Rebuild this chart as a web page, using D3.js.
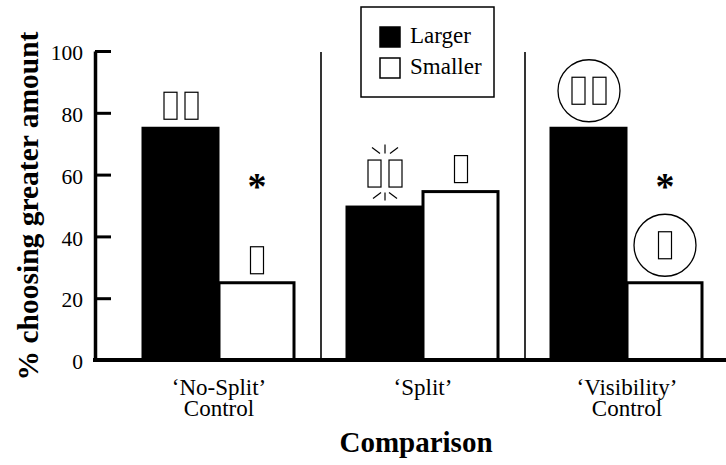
<!DOCTYPE html>
<html>
<head>
<meta charset="utf-8">
<script src="https://cdn.jsdelivr.net/npm/d3@7"></script>
<style>
  body { margin: 0; background: #fff; }
</style>
</head>
<body>
<div id="chart"></div>
<script>
// ==================================================
// DATA
// ==================================================

// Comparison groups (label lines)
var groups      = ["No-Split", "Split", "Visibility"];
var groupLabels = [["\u2018No-Split\u2019", "Control"], ["\u2018Split\u2019"], ["\u2018Visibility\u2019", "Control"]];

// Series
var series  = ["Larger", "Smaller"];
var larger  = [75, 49.5, 75];
var smaller = [25, 54.5, 25];

// Significance star per group
var significant = [true, false, true];

// Y ticks
var yTicks = [0, 20, 40, 60, 80, 100];

// ==================================================
// SETUP
// ==================================================

var width  = 726;
var height = 465;
var serif  = "'Liberation Serif', 'Times New Roman', serif";

var svg = d3.select("#chart")
  .append("svg")
    .attr("width", width)
    .attr("height", height);

// Scales
var y = d3.scaleLinear()
  .domain([0, 100])
  .range([360, 51]);

var x = d3.scaleBand()
  .domain(groups)
  .range([117, 729]);

var barW = 76;
var xSub = d3.scaleBand()
  .domain(series)
  .range([0, barW * 2]);

function barX(g, s) {
  return x(g) + x.bandwidth() / 2 - barW + xSub(s);
}

// Build bar records
var bars = [];
groups.forEach(function(g, i) {
  bars.push({ group: g, series: "Larger",  value: larger[i],  gi: i });
  bars.push({ group: g, series: "Smaller", value: smaller[i], gi: i });
});

// ==================================================
// SEPARATORS
// ==================================================

svg.selectAll(".sep")
  .data(groups.slice(1))
  .enter()
  .append("line")
    .attr("x1", function(d) { return x(d); })
    .attr("x2", function(d) { return x(d); })
    .attr("y1", y(100) + 1)
    .attr("y2", y(0))
    .attr("stroke", "#000")
    .attr("stroke-width", 1.6);

// ==================================================
// BARS
// ==================================================

svg.selectAll(".bar")
  .data(bars)
  .enter()
  .append("rect")
    .attr("x", function(d) { return barX(d.group, d.series); })
    .attr("y", function(d) { return y(d.value); })
    .attr("width", barW - 1)
    .attr("height", function(d) { return y(0) - y(d.value); })
    .attr("fill", function(d) { return d.series == "Larger" ? "#000" : "#fff"; })
    .attr("stroke", "#000")
    .attr("stroke-width", 3);

// ==================================================
// ANNOTATION GLYPHS (boxes above bars)
// ==================================================

var boxW = 13, boxH = 27;

bars.forEach(function(d) {
  var cx   = barX(d.group, d.series) + barW / 2;
  var top  = y(d.value);
  var n    = d.series == "Larger" ? 2 : 1;
  var gap  = 9;
  if (d.group == "Split" && d.series == "Larger") gap = 20;
  if (d.group == "Visibility") gap = 24;
  var cy = top - gap - boxH / 2;

  var offs = n == 2 ? [-17, 4] : [-boxW / 2];
  offs.forEach(function(o) {
    svg.append("rect")
      .attr("x", cx + o)
      .attr("y", cy - boxH / 2)
      .attr("width", boxW)
      .attr("height", boxH)
      .attr("fill", "none")
      .attr("stroke", "#000")
      .attr("stroke-width", 1.2);
  });

  // Circle around glyphs
  if (d.group == "Visibility") {
    svg.append("circle")
      .attr("cx", cx)
      .attr("cy", cy)
      .attr("r", 31)
      .attr("fill", "none")
      .attr("stroke", "#000")
      .attr("stroke-width", 1.3);
  }

  // Sparkle lines
  if (d.group == "Split" && d.series == "Larger") {
    var rays = [[-13, -26, -5, -20], [0, -29, 0, -20], [13, -26, 5, -20],
                [-12, 25, -4, 19], [0, 27, 0, 19], [12, 25, 4, 19]];
    rays.forEach(function(r) {
      svg.append("line")
        .attr("x1", cx + r[0]).attr("y1", cy + r[1])
        .attr("x2", cx + r[2]).attr("y2", cy + r[3])
        .attr("stroke", "#000")
        .attr("stroke-width", 1.2);
    });
  }
});

// Significance stars
svg.selectAll(".star")
  .data(groups.filter(function(g, i) { return significant[i]; }))
  .enter()
  .append("text")
    .attr("x", function(d) { return barX(d, "Smaller") + barW / 2; })
    .attr("y", y(58) + 18)
    .attr("text-anchor", "middle")
    .style("font-family", serif)
    .attr("font-size", "38px")
    .attr("font-weight", "bold")
    .text("*");

// ==================================================
// AXES
// ==================================================

var yAxis = svg.append("g")
  .attr("transform", "translate(95,0)")
  .call(d3.axisLeft(y).tickValues(yTicks).tickSizeInner(-16).tickSizeOuter(0).tickPadding(12));

yAxis.select(".domain").attr("stroke-width", 3.5);
yAxis.selectAll(".tick line").attr("stroke-width", 3);
yAxis.selectAll(".tick text")
  .style("font-family", serif)
  .attr("font-size", "21.5px")
  .attr("dy", "0.4em");

svg.append("line")
  .attr("x1", 93)
  .attr("x2", width)
  .attr("y1", y(0))
  .attr("y2", y(0))
  .attr("stroke", "#000")
  .attr("stroke-width", 4);

// X group labels
groups.forEach(function(g, i) {
  groupLabels[i].forEach(function(line, j) {
    svg.append("text")
      .attr("x", x(g) + x.bandwidth() / 2)
      .attr("y", 395 + j * 21)
      .attr("text-anchor", "middle")
      .style("font-family", serif)
      .attr("font-size", "23px")
      .text(line);
  });
});

// Axis titles
svg.append("text")
  .attr("x", 416)
  .attr("y", 452)
  .attr("text-anchor", "middle")
  .style("font-family", serif)
  .attr("font-size", "29px")
  .attr("font-weight", "bold")
  .text("Comparison");

svg.append("text")
  .attr("transform", "translate(38,206) rotate(-90)")
  .attr("text-anchor", "middle")
  .style("font-family", serif)
  .attr("font-size", "29.5px")
  .attr("font-weight", "bold")
  .text("% choosing greater amount");

// ==================================================
// LEGEND
// ==================================================

svg.append("rect")
  .attr("x", 361)
  .attr("y", 7)
  .attr("width", 133)
  .attr("height", 90)
  .attr("fill", "#fff")
  .attr("stroke", "#000")
  .attr("stroke-width", 1.5);

var legend = svg.selectAll(".legend")
  .data(series)
  .enter()
  .append("g")
    .attr("transform", function(d, i) { return "translate(380," + (27 + i * 31) + ")"; });

legend.append("rect")
  .attr("width", 20)
  .attr("height", 20)
  .attr("fill", function(d) { return d == "Larger" ? "#000" : "#fff"; })
  .attr("stroke", "#000")
  .attr("stroke-width", 1.5);

legend.append("text")
  .attr("x", 30)
  .attr("y", 16)
  .style("font-family", serif)
  .attr("font-size", "23px")
  .text(function(d) { return d; });
</script>
</body>
</html>
